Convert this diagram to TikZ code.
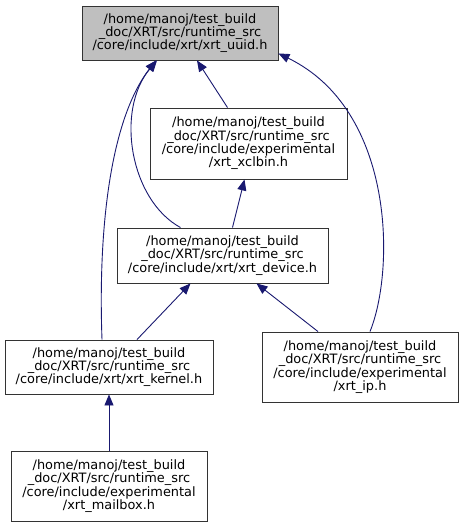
\documentclass[tikz,border=0pt]{standalone}
\usepackage{fontspec}
\setmainfont{DejaVu Sans}
\usetikzlibrary{arrows.meta}
\definecolor{edgeblue}{HTML}{191970}
\definecolor{rootgray}{HTML}{BFBFBF}
\tikzset{
  file/.style={draw=black!80, line width=0.9pt, fill=white, align=center, inner sep=0pt,
    font=\fontsize{12.9}{13.3}\selectfont},
  root/.style={file, fill=rootgray},
  dep/.style={draw=edgeblue, line width=0.9pt, {Triangle[length=11pt,width=9pt]}-}
}
\begin{document}
\begin{tikzpicture}[x=1pt,y=-1pt]
		\useasboundingbox (0,0) rectangle (463,527);
		\node[root, minimum width=196, minimum height=54] (uuid) at (180,33) {/home/manoj/test\_build\\\_doc/XRT/src/runtime\_src\\/core/include/xrt/xrt\_uuid.h};
		\node[file, minimum width=197, minimum height=71] (xclbin) at (248.5,143.5) {/home/manoj/test\_build\\\_doc/XRT/src/runtime\_src\\/core/include/experimental\\/xrt\_xclbin.h};
		\node[file, minimum width=211, minimum height=55] (device) at (222.5,255.5) {/home/manoj/test\_build\\\_doc/XRT/src/runtime\_src\\/core/include/xrt/xrt\_device.h};
		\node[file, minimum width=208, minimum height=54] (kernel) at (109,367) {/home/manoj/test\_build\\\_doc/XRT/src/runtime\_src\\/core/include/xrt/xrt\_kernel.h};
		\node[file, minimum width=196, minimum height=70] (ip) at (360,367) {/home/manoj/test\_build\\\_doc/XRT/src/runtime\_src\\/core/include/experimental\\/xrt\_ip.h};
		\node[file, minimum width=196, minimum height=70] (mailbox) at (109,486) {/home/manoj/test\_build\\\_doc/XRT/src/runtime\_src\\/core/include/experimental\\/xrt\_mailbox.h};
		\draw[dep] ([xshift=17pt]uuid.south) -- ([xshift=-21pt]xclbin.north);
		\draw[dep] ([xshift=-23pt]uuid.south) .. controls (115,110) and (130,200) .. ([xshift=-42pt]device.north);
		\draw[dep] ([xshift=-24pt]uuid.south) .. controls (110,120) and (98,230) .. ([xshift=-7pt]kernel.north);
		\draw[dep] ([yshift=7pt]uuid.south east) .. controls (395,110) and (395,270) .. ([xshift=10pt]ip.north);
		\draw[dep] ([xshift=-4pt]xclbin.south) -- ([xshift=10pt]device.north);
		\draw[dep] ([xshift=-32pt]device.south) -- ([xshift=28pt]kernel.north);
		\draw[dep] ([xshift=34pt]device.south) -- ([xshift=-42pt]ip.north);
		\draw[dep] (kernel.south) -- (mailbox.north);
		\end{tikzpicture}
\end{document}
